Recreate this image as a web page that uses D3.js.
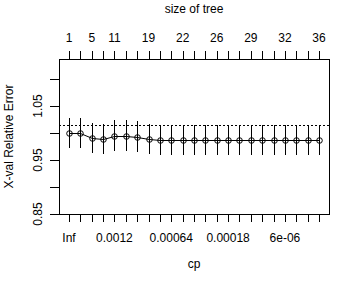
<!DOCTYPE html>
<html>
<head>
<meta charset="utf-8">
<script src="https://cdn.jsdelivr.net/npm/d3@7"></script>
<style>
  body { margin: 0; background: #fff; }
  text { font-family: "Liberation Sans", Arial, sans-serif; font-size: 12px; fill: #000; }
</style>
</head>
<body>
<div id="chart"></div>
<script>
// 1: DATA
// cross-validated relative error per tree size (23 cp steps)
const xerror = [1.000, 1.000, 0.9907, 0.9888, 0.995, 0.995, 0.9932, 0.9888, 0.987, 0.987,
                0.987, 0.987, 0.987, 0.987, 0.987, 0.987, 0.987, 0.987, 0.987, 0.987,
                0.987, 0.987, 0.987];
const xstd = [0.0285, 0.0285, 0.0286, 0.0286, 0.0286, 0.0286, 0.0286, 0.0286, 0.0286, 0.0286,
              0.0286, 0.0286, 0.0286, 0.0286, 0.0286, 0.0286, 0.0286, 0.0286, 0.0286, 0.0286,
              0.0286, 0.0286, 0.0286];
// labels that are drawn (index -> label); R drops the overlapping ones
const sizeIdx = [0, 2, 4, 7, 10, 13, 16, 19, 22];
const sizeLabels = ["1", "5", "11", "19", "22", "26", "29", "32", "36"];
const cpIdx = [0, 4, 9, 14, 19];
const cpLabels = ["Inf", "0.0012", "0.00064", "0.00018", "6e-06"];
const yTicks = [0.85, 0.90, 0.95, 1.00, 1.05, 1.10];
const yLabelTicks = [0.85, 0.95, 1.05];
const refLine = 1.0155;

// 2: LAYOUT
const W = 360, H = 288;
const box = { left: 59, top: 59, right: 329, bottom: 214 };

const svg = d3.select("#chart")
    .append("svg")
    .attr("width", W)
    .attr("height", H);

const n = xerror.length;
const xScale = d3.scaleLinear()
    .domain([-0.88, n - 1 + 0.88])
    .range([box.left, box.right]);

const yScale = d3.scaleLinear()
    .domain([0.85, 1.137])
    .range([box.bottom, box.top]);

const px = v => Math.round(v) + 0.5;

// box
svg.append("rect")
    .attr("x", box.left + 0.5)
    .attr("y", box.top + 0.5)
    .attr("width", box.right - box.left)
    .attr("height", box.bottom - box.top)
    .attr("fill", "none")
    .attr("stroke", "#000")
    .attr("shape-rendering", "crispEdges");

// bottom axis (cp)
const idx = d3.range(n);
svg.append("g")
    .selectAll("line")
    .data(idx)
    .enter().append("line")
    .attr("x1", d => px(xScale(d))).attr("x2", d => px(xScale(d)))
    .attr("y1", box.bottom + 0.5).attr("y2", box.bottom + 8)
    .attr("stroke", "#000")
    .attr("shape-rendering", "crispEdges");

svg.append("g")
    .selectAll("text")
    .data(cpIdx)
    .enter().append("text")
    .attr("x", d => xScale(d))
    .attr("y", 242)
    .attr("text-anchor", "middle")
    .text((d, i) => cpLabels[i]);

// top axis (size of tree)
svg.append("g")
    .selectAll("line")
    .data(idx)
    .enter().append("line")
    .attr("x1", d => px(xScale(d))).attr("x2", d => px(xScale(d)))
    .attr("y1", box.top + 0.5).attr("y2", box.top - 8)
    .attr("stroke", "#000")
    .attr("shape-rendering", "crispEdges");

svg.append("g")
    .selectAll("text")
    .data(sizeIdx)
    .enter().append("text")
    .attr("x", d => xScale(d))
    .attr("y", 42)
    .attr("text-anchor", "middle")
    .text((d, i) => sizeLabels[i]);

// left axis
svg.append("g")
    .selectAll("line")
    .data(yTicks)
    .enter().append("line")
    .attr("x1", box.left + 0.5).attr("x2", box.left - 9)
    .attr("y1", d => px(yScale(d))).attr("y2", d => px(yScale(d)))
    .attr("stroke", "#000")
    .attr("shape-rendering", "crispEdges");

svg.append("g")
    .selectAll("text")
    .data(yLabelTicks)
    .enter().append("text")
    .attr("transform", d => `translate(42,${yScale(d)}) rotate(-90)`)
    .attr("text-anchor", "middle")
    .text(d => d.toFixed(2));

// titles
svg.append("text")
    .attr("x", (box.left + box.right) / 2)
    .attr("y", 13)
    .attr("text-anchor", "middle")
    .text("size of tree");

svg.append("text")
    .attr("x", (box.left + box.right) / 2)
    .attr("y", 268)
    .attr("text-anchor", "middle")
    .text("cp");

svg.append("text")
    .attr("transform", `translate(13,${(box.top + box.bottom) / 2}) rotate(-90)`)
    .attr("text-anchor", "middle")
    .text("X-val Relative Error");

// 3: MARKS
// reference line (min xerror + 1 se)
svg.append("line")
    .attr("x1", box.left).attr("x2", box.right)
    .attr("y1", px(yScale(refLine))).attr("y2", px(yScale(refLine)))
    .attr("stroke", "#000")
    .attr("stroke-dasharray", "2,2")
    .attr("shape-rendering", "crispEdges");

// points (open circles, drawn first so lines cross them)
svg.append("g")
    .selectAll("circle")
    .data(idx)
    .enter().append("circle")
    .attr("cx", d => px(xScale(d)))
    .attr("cy", d => px(yScale(xerror[d])))
    .attr("r", 2.8)
    .attr("fill", "none")
    .attr("stroke", "#000");

// error bars
svg.append("g")
    .selectAll("line")
    .data(idx)
    .enter().append("line")
    .attr("x1", d => px(xScale(d))).attr("x2", d => px(xScale(d)))
    .attr("y1", d => Math.round(yScale(xerror[d] + xstd[d])))
    .attr("y2", d => Math.round(yScale(xerror[d] - xstd[d])))
    .attr("stroke", "#000")
    .attr("shape-rendering", "crispEdges");

// connecting line
const line = d3.line()
    .x(d => px(xScale(d)))
    .y(d => px(yScale(xerror[d])));

svg.append("path")
    .datum(idx)
    .attr("fill", "none")
    .attr("stroke", "#000")
    .attr("stroke-width", 1)
    .attr("d", line);
</script>
</body>
</html>
